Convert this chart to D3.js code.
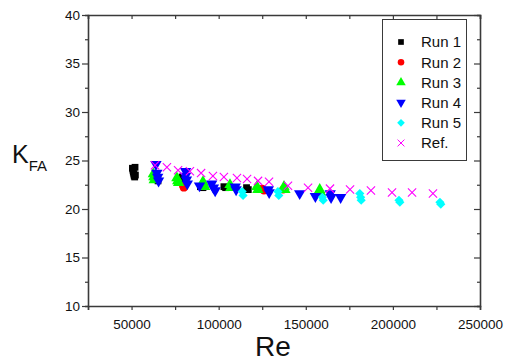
<!DOCTYPE html>
<html>
<head>
<meta charset="utf-8">
<script src="https://cdn.jsdelivr.net/npm/d3@7"></script>
<style>
  body { margin: 0; background: #fff; }
  svg { display: block; font-family: "Liberation Sans", Arial, sans-serif; }
</style>
</head>
<body>
<div id="chart"></div>
<script>
// data: [Re, K_FA]
const run1 = [[50500, 24.2], [50800, 24.0], [51000, 23.8], [51300, 23.6], [51500, 23.4], [51800, 23.3], [52000, 24.3], [52200, 23.5],
  [64500, 23.3], [65000, 23.1], [65200, 22.9], [79000, 23.3], [79500, 23.0], [89500, 22.3], [91000, 22.2],
  [103000, 22.3], [104000, 22.2], [116000, 22.2], [117000, 22.0]];
const run2 = [[79500, 22.4], [80000, 22.2], [125000, 22.1], [126000, 21.9], [137000, 22.0]];
const run3 = [[62500, 23.6], [62800, 23.3], [63000, 23.0], [76000, 23.2], [76500, 22.9], [77000, 22.7],
  [91000, 22.8], [91500, 22.5], [92000, 22.3], [106500, 22.5], [107000, 22.2], [122000, 22.3], [122500, 22.0],
  [137500, 22.3], [138000, 22.0], [158000, 22.0], [158500, 21.7]];
const run4 = [[64000, 24.6], [64500, 23.7], [65000, 23.3], [65500, 22.9], [81000, 23.9], [81000, 23.4], [81500, 23.0], [82000, 22.6],
  [89000, 22.4], [96000, 22.6], [97000, 22.2], [98000, 21.9], [109500, 22.3], [110000, 22.0], [128500, 22.0], [129000, 21.7],
  [146500, 21.6], [155500, 21.3], [164000, 21.6], [164500, 21.2], [170000, 21.2]];
const run5 = [[113500, 21.8], [114000, 21.4], [134000, 21.8], [134500, 21.4], [159500, 21.2], [160000, 20.9],
  [181000, 21.6], [181500, 21.2], [181800, 20.9], [203500, 20.9], [204000, 20.7], [227000, 20.7], [227500, 20.5]];
const ref = [[63500, 24.5], [70300, 24.3], [76700, 24.0], [83500, 23.9], [89900, 23.7], [96700, 23.4], [103000, 23.3],
  [110500, 23.2], [116300, 23.1], [122600, 22.9], [128900, 22.8], [139800, 22.4], [151300, 22.2], [163900, 22.1],
  [175400, 22.0], [187400, 21.9], [199500, 21.7], [211000, 21.7], [223000, 21.6]];

const seriesNames = ["Run 1", "Run 2", "Run 3", "Run 4", "Run 5", "Ref."];
const xTicks = [50000, 100000, 150000, 200000, 250000];
const yTicks = [10, 15, 20, 25, 30, 35, 40];

const W = 507, H = 361;
const m = { left: 88, top: 15, right: 27, bottom: 55 };
const svg = d3.select("#chart").append("svg").attr("width", W).attr("height", H);

const x = d3.scaleLinear().domain([25000, 250000]).range([m.left, W - m.right]);
const y = d3.scaleLinear().domain([10, 40]).range([H - m.bottom, m.top]);

const axisColor = "#3a3a3a";

// markers
const styles = [
  { data: run1, color: "#000000", type: d3.symbolSquare, size: 46, rot: 0 },
  { data: run2, color: "#ff0000", type: d3.symbolCircle, size: 48, rot: 0 },
  { data: run3, color: "#00ff00", type: d3.symbolTriangle, size: 56, rot: 0 },
  { data: run4, color: "#0000ff", type: d3.symbolTriangle, size: 56, rot: 180 },
  { data: run5, color: "#00ffff", type: d3.symbolSquare, size: 42, rot: 45 },
  { data: ref, color: "#ff00ff", type: d3.symbolX, size: 46, rot: 0, stroke: true }
];

const plot = svg.append("g");
styles.forEach(s => {
  const sym = d3.symbol().type(s.type).size(s.size);
  plot.append("g").selectAll("path").data(s.data).join("path")
    .attr("d", sym)
    .attr("transform", d => `translate(${x(d[0])},${y(d[1])}) rotate(${s.rot})`)
    .attr("fill", s.stroke ? "none" : s.color)
    .attr("stroke", s.stroke ? s.color : "none")
    .attr("stroke-width", 1.1);
});

// axes
const minorX = d3.range(25000, 250001, 25000);
const minorY = d3.range(10, 40.01, 2.5);

const axBottom = svg.append("g").attr("transform", `translate(0,${y(10)})`)
  .call(d3.axisBottom(x).tickValues(minorX).tickSize(4).tickFormat(d => xTicks.includes(d) ? d : ""));
const axLeft = svg.append("g").attr("transform", `translate(${x(25000)},0)`)
  .call(d3.axisLeft(y).tickValues(minorY).tickSize(3).tickFormat(d => yTicks.includes(d) ? d : ""));
const axTop = svg.append("g").attr("transform", `translate(0,${y(40)})`)
  .call(d3.axisBottom(x).tickValues(minorX).tickSize(4).tickFormat(""));
const axRight = svg.append("g").attr("transform", `translate(${x(250000)},0)`)
  .call(d3.axisRight(y).tickValues(minorY).tickSize(-3).tickFormat(""));

axLeft.selectAll(".tick line").filter(d => yTicks.includes(d)).attr("x2", -6);
axRight.selectAll(".tick line").filter(d => yTicks.includes(d)).attr("x2", -6);

[axBottom, axLeft, axTop, axRight].forEach(g => {
  g.select(".domain").attr("stroke", axisColor).attr("stroke-width", 1.6);
  g.selectAll(".tick line").attr("stroke", axisColor).attr("stroke-width", 1.2);
  g.selectAll(".tick text").attr("font-size", 13.5).attr("fill", "#111")
    .attr("font-family", "'Liberation Sans', Arial, sans-serif");
});
axBottom.selectAll(".tick text").attr("dy", "1.2em");
axLeft.selectAll(".tick text").attr("x", -8);

// axis titles
svg.append("text").attr("x", 273).attr("y", 356).attr("text-anchor", "middle")
  .attr("font-size", 28).attr("fill", "#111").text("Re");
const kt = svg.append("text").attr("x", 12).attr("y", 163).attr("font-size", 25).attr("fill", "#111");
kt.append("tspan").text("K");
kt.append("tspan").attr("font-size", 15).attr("dy", 8).text("FA");

// legend
const lg = svg.append("g");
lg.append("rect").attr("x", 382.5).attr("y", 19.5).attr("width", 84).attr("height", 141)
  .attr("fill", "#fff").attr("stroke", axisColor).attr("stroke-width", 1);
styles.forEach((s, i) => {
  const cy = 42 + i * 20.2;
  const sym = d3.symbol().type(s.type).size(s.size * 0.7);
  lg.append("path").attr("d", sym)
    .attr("transform", `translate(401,${cy}) rotate(${s.rot})`)
    .attr("fill", s.stroke ? "none" : s.color)
    .attr("stroke", s.stroke ? s.color : "none");
  lg.append("text").attr("x", 421).attr("y", cy).attr("dy", "0.36em")
    .attr("font-size", 15).attr("fill", "#111").text(seriesNames[i]);
});
</script>
</body>
</html>
